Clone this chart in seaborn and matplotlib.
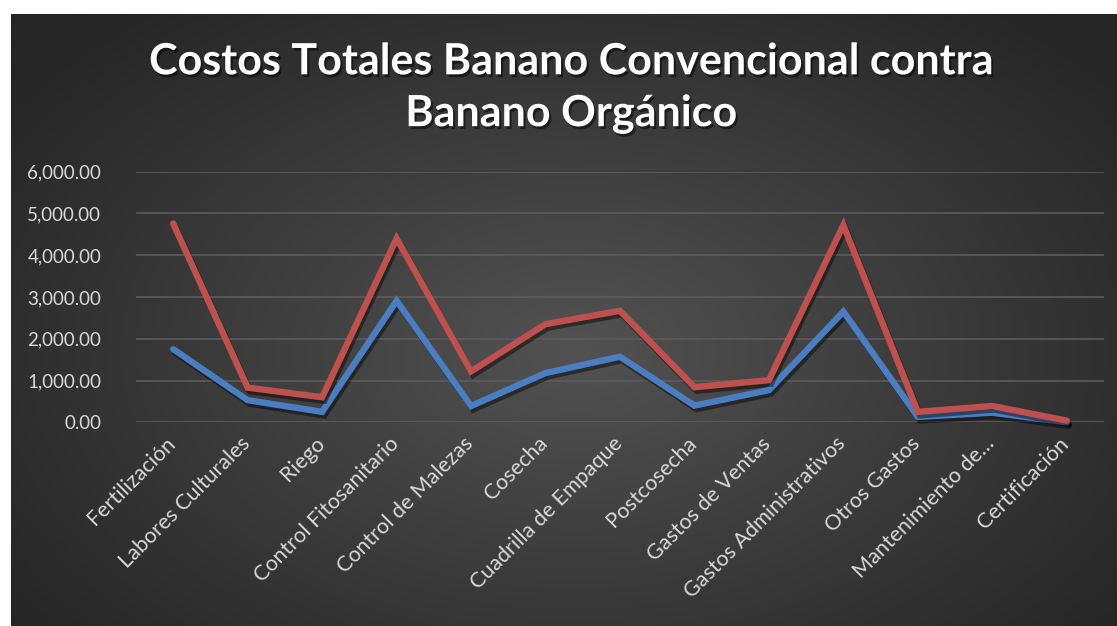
import matplotlib
matplotlib.use('Agg')
import matplotlib.pyplot as plt
import matplotlib.patheffects as pe
import matplotlib.transforms as mtransforms
from matplotlib.colors import LinearSegmentedColormap
from matplotlib.ticker import FuncFormatter
import seaborn as sns
import pandas as pd
import numpy as np

# Data
rubros = ['Fertilización', 'Labores Culturales', 'Riego', 'Control Fitosanitario',
          'Control de Malezas', 'Cosecha', 'Cuadrilla de Empaque', 'Postcosecha',
          'Gastos de Ventas', 'Gastos Administrativos', 'Otros Gastos',
          'Mantenimiento de…', 'Certificación']
convencional = [1750, 530, 250, 2910, 390, 1180, 1570, 400, 770, 2650, 130, 230, 0]
organico = [4760, 830, 600, 4400, 1220, 2350, 2670, 840, 1010, 4720, 250, 390, 40]

df = pd.DataFrame({
    'Rubro': rubros * 2,
    'Costo': convencional + organico,
    'Tipo': ['Banano Convencional'] * len(rubros) + ['Banano Orgánico'] * len(rubros),
})

sns.set_style('dark')
plt.rcParams['font.family'] = ['Lato', 'DejaVu Sans']

W, H = 1117, 626
fig = plt.figure(figsize=(W / 100, H / 100), dpi=100)
fig.patch.set_facecolor('white')

# Dark radial gradient panel behind the chart
bg = fig.add_axes([11 / W, 0, 1 - 11 / W, 1 - 14 / H])
bg.axis('off')
gx, gy = np.meshgrid(np.linspace(-1, 1, 400), np.linspace(-1, 1, 240))
r = np.sqrt(((gx - 0.02) / 1.0) ** 2 + ((gy - 0.1) / 1.15) ** 2)
cmap = LinearSegmentedColormap.from_list('bg', ['#525252', '#3c3c3c', '#262626'])
bg.imshow(np.clip(r / 1.25, 0, 1), cmap=cmap, aspect='auto', extent=[0, 1, 0, 1],
          interpolation='bicubic', vmin=0, vmax=1)

ax = fig.add_axes([136 / W, 1 - 422.3 / H, (1104 - 136) / W, (422.3 - 171.7) / H])
ax.set_zorder(2)
ax.set_facecolor('none')

sns.lineplot(data=df, x='Rubro', y='Costo', hue='Tipo', sort=False,
             palette={'Banano Convencional': '#4A7EC0', 'Banano Orgánico': '#C0504D'},
             linewidth=4.6, legend=False, ax=ax)

for line in ax.get_lines():
    line.set_clip_on(False)
    line.set_solid_joinstyle('miter')
    line.set_solid_capstyle('round')
    line.set_path_effects([pe.SimpleLineShadow(offset=(1.5, -2.5), shadow_color='black', alpha=0.45),
                           pe.Normal()])

ax.set_xlim(-0.5, len(rubros) - 0.5)
ax.set_ylim(0, 6000)
ax.set_yticks(np.arange(0, 6001, 1000))
ax.yaxis.set_major_formatter(FuncFormatter(lambda v, _: f'{v:,.2f}'))
ax.grid(axis='y', color='#5c5c5c', linewidth=1.2)
ax.grid(axis='x', visible=False)
for s in ax.spines.values():
    s.set_visible(False)
ax.set_xlabel('')
ax.set_ylabel('')
ax.tick_params(axis='both', length=0, colors='#d9d9d9')
ax.tick_params(axis='y', pad=25, labelsize=13.5)
ax.tick_params(axis='x', pad=8, labelsize=15.5)

ax.set_xticks(range(len(rubros)))
ax.set_xticklabels(rubros, rotation=45, ha='right', va='top', rotation_mode='anchor')
offset = mtransforms.ScaledTranslation(-8 / 100, 0, fig.dpi_scale_trans)
for lbl in ax.get_xticklabels():
    lbl.set_transform(lbl.get_transform() + offset)

fig.text(571 / W, 1 - 87.5 / H, 'Costos Totales Banano Convencional contra\nBanano Orgánico',
         ha='center', va='center', color='white', fontsize=31, fontweight='bold',
         linespacing=1.36, zorder=3,
         path_effects=[pe.withSimplePatchShadow(offset=(1.5, -2), shadow_rgbFace='black', alpha=0.5)])

fig.savefig('out.png', dpi=100, facecolor=fig.get_facecolor())
